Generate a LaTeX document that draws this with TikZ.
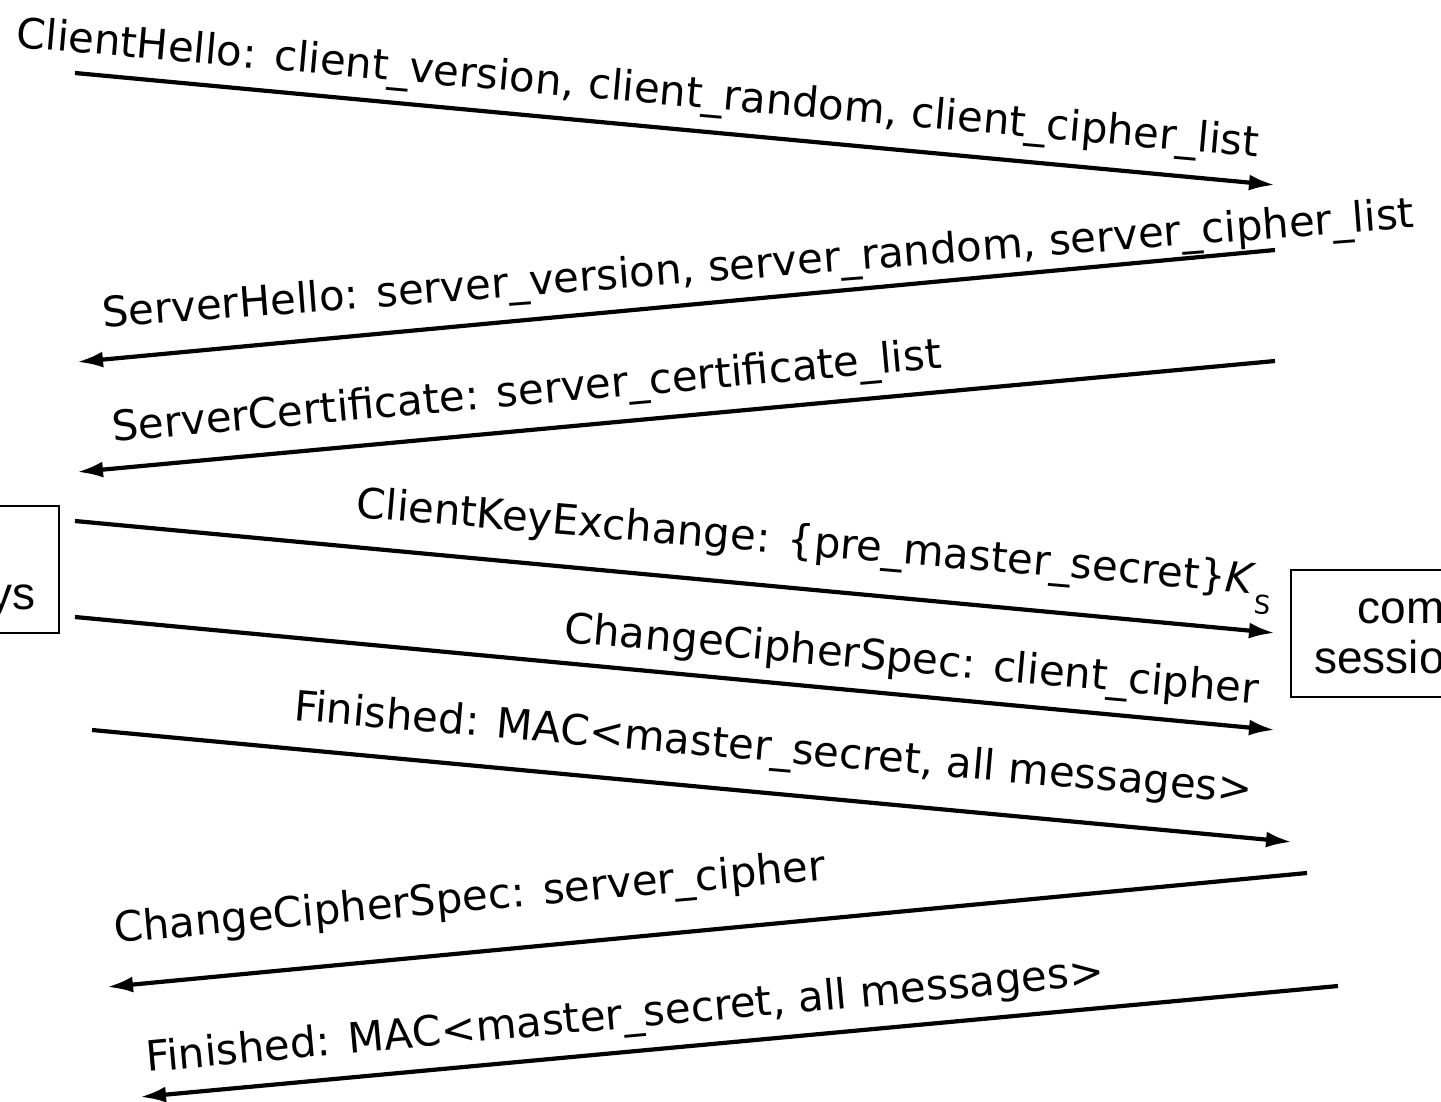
\documentclass[tikz,border=0pt]{standalone}
\usepackage{fontspec}
\setmainfont{DejaVu Sans}
\newfontfamily\boxfont{Liberation Sans}
\usetikzlibrary{arrows.meta}
\begin{document}
\begin{tikzpicture}[x=0.5pt,y=-0.5pt,
  msg/.style={line width=2.1pt, -{Latex[length=13pt,width=8pt]}},
  lbl/.style={inner sep=0pt, anchor=base west, font=\fontsize{20.9}{25}\selectfont},
  keybox/.style={draw, line width=1pt, minimum width=155pt, minimum height=63.5pt, inner sep=0pt},
  keytext/.style={inner sep=0pt, align=center, font=\boxfont\fontsize{23}{25}\selectfont}
]
\useasboundingbox (0,0) rectangle (1441,1102);
\clip (0,0) rectangle (1441,1102);

% key computation boxes
\node[keybox] (lbox) at (-96,569.5) {};
\node[keytext] (ltext) at ([yshift=-2.5pt]lbox.center) {compute\\session keys};
\node[keybox] (rbox) at (1446,633.5) {};
\node[keytext] (rtext) at ([yshift=-2.5pt]rbox.center) {compute\\session keys};

% end points of the messages
\coordinate (c1) at (75,73);    \coordinate (s1) at (1275,185);
\coordinate (s2) at (1275,250); \coordinate (c2) at (77,362);
\coordinate (s3) at (1275,361); \coordinate (c3) at (77,472);
\coordinate (c4) at (75,521);   \coordinate (s4) at (1275,633);
\coordinate (c5) at (75,617);   \coordinate (s5) at (1275,730);
\coordinate (c6) at (92,730);   \coordinate (s6) at (1292,842);
\coordinate (s7) at (1307,873); \coordinate (c7) at (107,987);
\coordinate (s8) at (1338,986); \coordinate (c8) at (140,1097);

\draw[msg] (c1) -- (s1);
\draw[msg] (s2) -- (c2);
\draw[msg] (s3) -- (c3);
\draw[msg] (c4) -- (s4);
\draw[msg] (c5) -- (s5);
\draw[msg] (c6) -- (s6);
\draw[msg] (s7) -- (c7);
\draw[msg] (s8) -- (c8);

% labels
\node[lbl, rotate=-5.07] (l1) at (15,47) {ClientHello: client\_version, client\_random, client\_cipher\_list};
\node[lbl, rotate=4.37] (l2) at (103,328) {ServerHello: server\_version, server\_random, server\_cipher\_list};
\node[lbl, rotate=5.1] (l3) at (113,442) {ServerCertificate: server\_certificate\_list};
\node[lbl, rotate=-4.87] (l4) at (355,517) {ClientKeyExchange: \{pre\_master\_secret\}\textit{K}\raisebox{-10pt}{\fontsize{13}{13}\selectfont S}};
\node[lbl, rotate=-5.07] (l5) at (563,642) {ChangeCipherSpec: client\_cipher};
\node[lbl, rotate=-4.96] (l6) at (293,720) {Finished: MAC<master\_secret, all messages>};
\node[lbl, rotate=5.1] (l7) at (115,943) {ChangeCipherSpec: server\_cipher};
\node[lbl, rotate=5.2] (l8) at (147,1072) {Finished: MAC<master\_secret, all messages>};
\end{tikzpicture}
\end{document}
